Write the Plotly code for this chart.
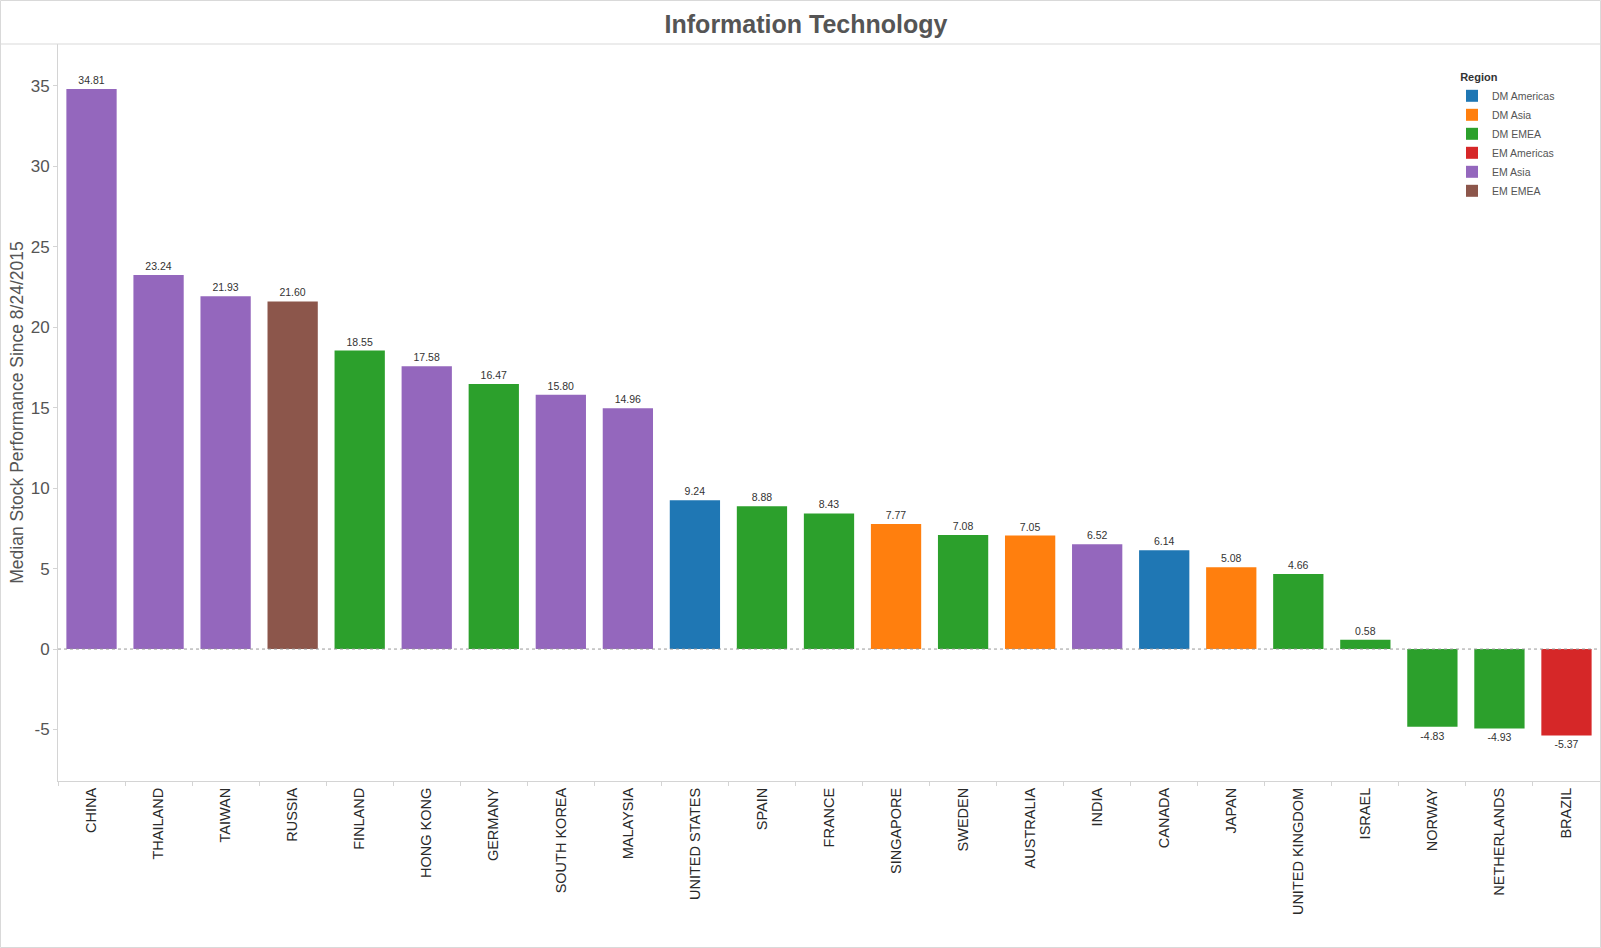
import plotly.graph_objects as go

countries = ["CHINA", "THAILAND", "TAIWAN", "RUSSIA", "FINLAND", "HONG KONG", "GERMANY",
             "SOUTH KOREA", "MALAYSIA", "UNITED STATES", "SPAIN", "FRANCE", "SINGAPORE",
             "SWEDEN", "AUSTRALIA", "INDIA", "CANADA", "JAPAN", "UNITED KINGDOM", "ISRAEL",
             "NORWAY", "NETHERLANDS", "BRAZIL"]
values = [34.81, 23.24, 21.93, 21.60, 18.55, 17.58, 16.47, 15.80, 14.96, 9.24, 8.88, 8.43,
          7.77, 7.08, 7.05, 6.52, 6.14, 5.08, 4.66, 0.58, -4.83, -4.93, -5.37]
regions = ["EM Asia", "EM Asia", "EM Asia", "EM EMEA", "DM EMEA", "EM Asia", "DM EMEA",
           "EM Asia", "EM Asia", "DM Americas", "DM EMEA", "DM EMEA", "DM Asia", "DM EMEA",
           "DM Asia", "EM Asia", "DM Americas", "DM Asia", "DM EMEA", "DM EMEA", "DM EMEA",
           "DM EMEA", "EM Americas"]
region_order = ["DM Americas", "DM Asia", "DM EMEA", "EM Americas", "EM Asia", "EM EMEA"]
region_colors = ["#1f77b4", "#ff7f0e", "#2ca02c", "#d62728", "#9467bd", "#8c564b"]
y_tick_vals = [-5, 0, 5, 10, 15, 20, 25, 30, 35]
y_tick_text = ["-5", "0", "5", "10", "15", "20", "25", "30", "35"]

FONT = "Liberation Sans, Arial, sans-serif"
W, H = 1601, 948
ML, MR, MT, MB = 58, 1, 44, 167
PW, PH = W - ML - MR, H - MT - MB

fig = go.Figure()
for reg, col in zip(region_order, region_colors):
    xs = [c for c, r in zip(countries, regions) if r == reg]
    ys = [v for v, r in zip(values, regions) if r == reg]
    fig.add_trace(go.Bar(
        x=xs, y=ys, name=reg, marker=dict(color=col, line=dict(width=0)),
        width=0.75, texttemplate="%{y:.2f}", textposition="outside",
        textfont=dict(size=10.5, color="#333333", family=FONT),
        cliponaxis=False,
    ))

fig.update_layout(
    width=W, height=H,
    margin=dict(l=ML, r=MR, t=MT, b=MB),
    paper_bgcolor="white", plot_bgcolor="white",
    barmode="overlay",
    font=dict(family=FONT, color="#555555"),
    title=dict(text="<b>Information Technology</b>", x=(806) / W, xanchor="center",
               xref="container", y=1 - 24 / H, yanchor="middle", yref="container",
               font=dict(size=25, color="#555555", family=FONT)),
    legend=dict(title=dict(text="&nbsp;&nbsp;<b>Region</b>", font=dict(size=11, color="#333333")),
                font=dict(size=10.5, color="#555555", family=FONT),
                x=(1452 - ML) / PW, xanchor="left", y=1 - (67 - MT) / PH, yanchor="top",
                bgcolor="rgba(0,0,0,0)", tracegroupgap=0, itemwidth=30),
    showlegend=True,
)
fig.update_xaxes(
    categoryorder="array", categoryarray=countries,
    tickangle=-90, tickfont=dict(size=14.5, color="#2a2a2a", family=FONT),
    showline=True, linecolor="#d4d4d4", linewidth=1,
    ticks="outside", tickson="boundaries", ticklen=4, tickcolor="#d4d4d4",
    showgrid=False, zeroline=False,
)
fig.update_yaxes(
    range=[-8.2, 37.6], tickmode="array", tickvals=y_tick_vals, ticktext=y_tick_text,
    tickfont=dict(size=17, color="#555555", family=FONT),
    title=dict(text="Median Stock Performance Since 8/24/2015",
               font=dict(size=17.5, color="#555555", family=FONT), standoff=2),
    showline=True, linecolor="#d4d4d4", linewidth=1,
    ticks="outside", ticklen=4, tickcolor="#d4d4d4",
    showgrid=False, zeroline=False,
)
# dotted zero reference line
fig.add_shape(type="line", xref="paper", yref="y", x0=0, x1=1, y0=0, y1=0,
              line=dict(color="#999999", width=1, dash="dot"), layer="above")
# title divider line across the full width
fig.add_shape(type="line", xref="paper", yref="paper", x0=-ML / PW, x1=1 + MR / PW, y0=1, y1=1,
              line=dict(color="#d9d9d9", width=1))
# outer frame
fig.add_shape(type="rect", xref="paper", yref="paper",
              x0=-(ML - 0.5) / PW, x1=1 + (MR - 0.5) / PW,
              y0=-(MB - 0.5) / PH, y1=1 + (MT - 0.5) / PH,
              line=dict(color="#d9d9d9", width=1))

fig.write_html("out.html", config={"displayModeBar": False},
               post_script="document.body.style.margin='0';document.body.style.overflow='hidden';")
